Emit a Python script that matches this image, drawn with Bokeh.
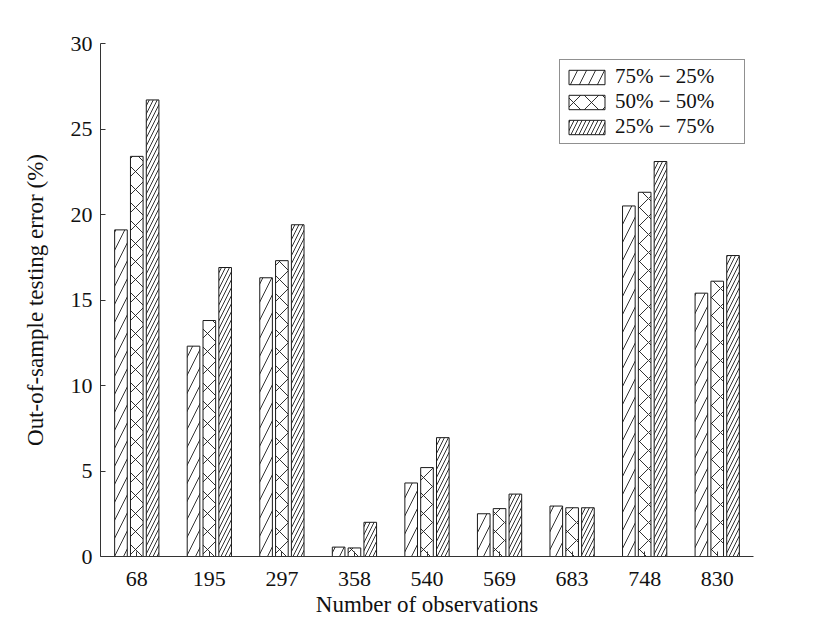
from bokeh.plotting import figure
from bokeh.models import ColumnDataSource, FactorRange, Range1d, Legend, LegendItem, FixedTicker
from bokeh.transform import dodge
from bokeh.embed import file_html
from bokeh.resources import INLINE

categories = ["68", "195", "297", "358", "540", "569", "683", "748", "830"]
series_names = ["75% \u2212 25%", "50% \u2212 50%", "25% \u2212 75%"]
s75_25 = [19.1, 12.3, 16.3, 0.55, 4.3, 2.5, 2.95, 20.5, 15.4]
s50_50 = [23.4, 13.8, 17.3, 0.5, 5.2, 2.8, 2.85, 21.3, 16.1]
s25_75 = [26.7, 16.9, 19.4, 2.0, 6.95, 3.65, 2.85, 23.1, 17.6]
y_ticks = [0, 5, 10, 15, 20, 25, 30]

src = ColumnDataSource(dict(cat=categories, a=s75_25, b=s50_50, c=s25_75))

FONT = "Liberation Serif"

p = figure(width=800, height=619, output_backend="svg", toolbar_location=None,
           x_range=FactorRange(factors=categories, range_padding=0),
           y_range=Range1d(0, 30),
           min_border_left=100, min_border_right=47, min_border_top=43, min_border_bottom=60)

off = 0.218
w = 0.174
specs = [("a", -off, "/", 18), ("b", 0.0, "x", 18), ("c", off, "/", 8)]
renderers = []
for col, dx, pat, sc in specs:
    r = p.vbar(x=dodge("cat", dx, range=p.x_range), top=col, width=w, bottom=0, source=src,
               fill_color="white", line_color="#1a1a1a", line_width=1,
               hatch_pattern=pat, hatch_scale=sc, hatch_color="#1a1a1a", hatch_weight=0.9)
    renderers.append(r)

legend = Legend(items=[LegendItem(label=n, renderers=[r]) for n, r in zip(series_names, renderers)],
                location=(459, 412))
legend.glyph_width = 45
legend.glyph_height = 18
legend.label_width = 125
legend.label_standoff = 6
legend.padding = 4
legend.spacing = 0
legend.margin = 0
legend.label_text_font = FONT
legend.label_text_font_size = "21px"
legend.label_text_color = "#111111"
legend.border_line_color = "#222222"
legend.border_line_width = 1
legend.background_fill_alpha = 1
p.add_layout(legend)

p.outline_line_color = None
p.xgrid.grid_line_color = None
p.ygrid.grid_line_color = None

p.yaxis.ticker = FixedTicker(ticks=y_ticks)
p.yaxis.minor_tick_line_color = None
for ax in (p.xaxis, p.yaxis):
    ax.major_tick_in = 5
    ax.major_tick_out = 0
    ax.axis_line_color = "#333333"
    ax.major_tick_line_color = "#333333"
    ax.major_label_text_font = FONT
    ax.major_label_text_font_size = "22px"
    ax.major_label_text_color = "#111111"
    ax.axis_label_text_font = FONT
    ax.axis_label_text_font_size = "23px"
    ax.axis_label_text_font_style = "normal"
    ax.axis_label_text_color = "#111111"

p.xaxis.axis_label = "Number of observations"
p.yaxis.axis_label = "Out-of-sample testing error (%)"
p.xaxis.major_label_standoff = 15
p.xaxis.axis_label_standoff = 3
p.yaxis.major_label_standoff = 8
p.yaxis.axis_label_standoff = 20

open("out.html", "w").write(file_html(p, INLINE))
